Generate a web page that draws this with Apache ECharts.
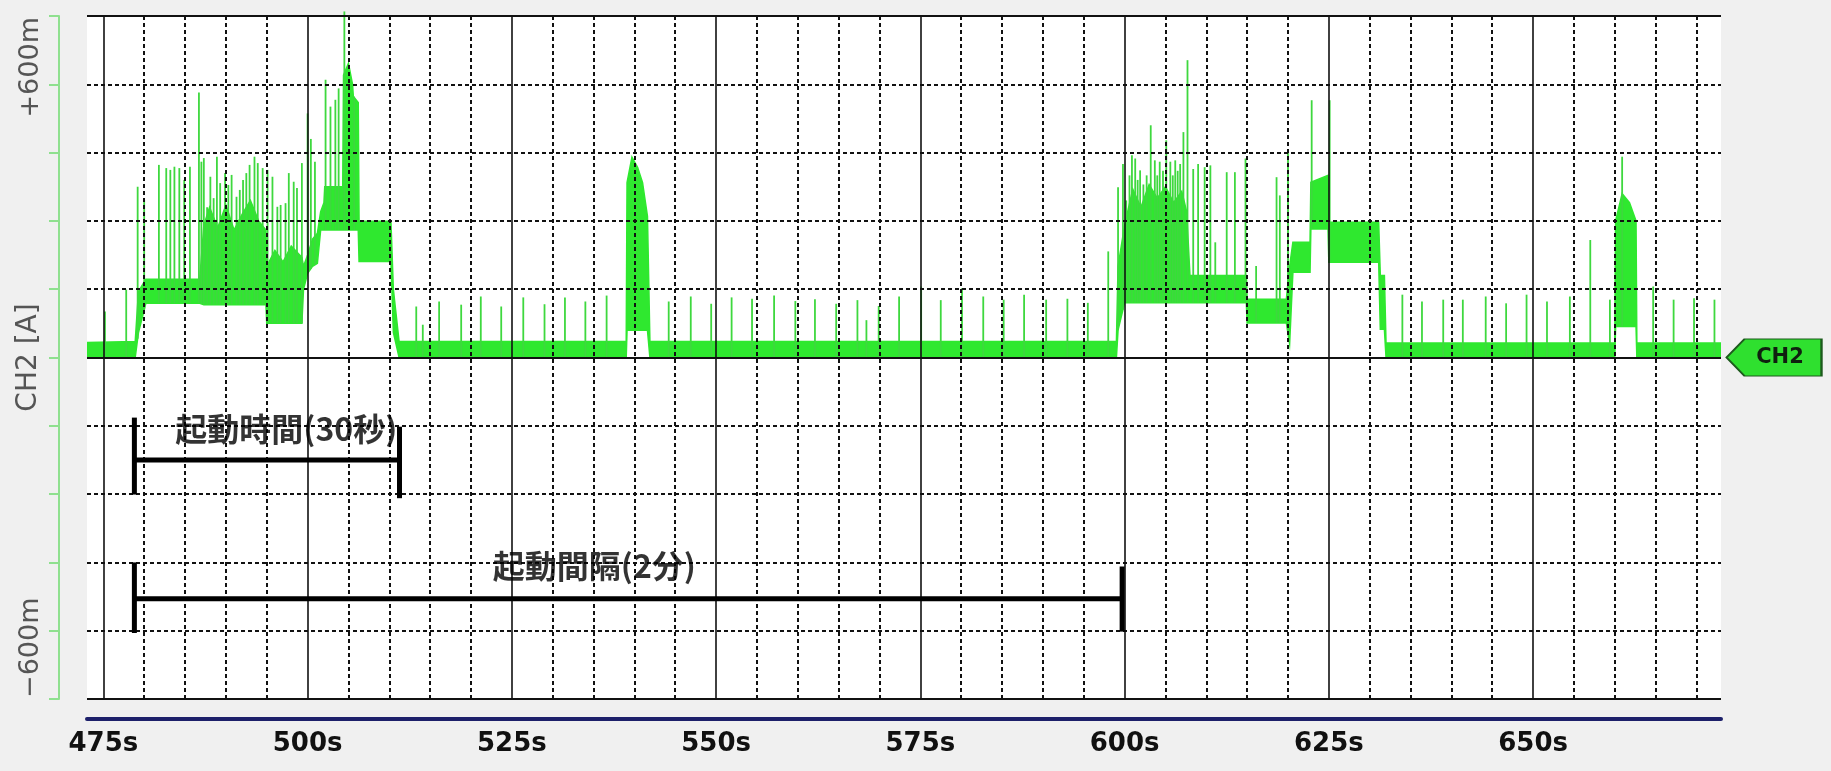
<!DOCTYPE html>
<html><head><meta charset="utf-8">
<script src="https://cdn.jsdelivr.net/npm/echarts@6/dist/echarts.min.js"></script>
<style>html,body{margin:0;padding:0;background:#f0f0f0;}#c{width:1831px;height:771px;}</style>
</head><body><div id="c"></div>
<script>
// ---- band envelope of the CH2 current trace (time s, low mA, high mA)
const bandTime = [473.0,478.9,479.3,480.2,486.8,487.3,488.0,489.0,490.0,491.0,492.0,493.0,494.0,494.9,495.0,496.0,497.0,498.0,499.3,499.5,500.0,500.6,501.2,501.6,502.0,502.1,504.3,504.4,505.0,505.5,505.6,506.2,506.3,510.2,510.5,511.2,
  539.0,539.1,539.7,540.4,541.0,541.6,541.9,
  599.0,599.2,600.0,601.0,602.0,603.0,604.0,605.0,606.0,607.0,607.6,608.0,614.9,615.0,619.8,620.2,620.6,622.7,622.8,624.9,625.0,631.1,631.3,631.8,632.0,
  660.0,660.1,660.9,661.8,662.6,662.7,673.0];
const bandLo = [0,0,55,119,119,116,116,116,116,116,116,116,116,116,75,75,75,75,75,150,185,200,207,280,280,280,280,280,280,280,280,280,211,211,55,0,
  0,60,60,60,60,60,0,
  0,60,120,120,120,120,120,120,120,120,120,120,120,76,76,30,187,187,282,282,209,209,62,62,0,
  0,68,68,68,68,0,0];
const bandHi = [33,35,145,172,172,290,330,285,335,280,315,345,300,280,200,235,210,245,220,200,225,260,273,320,340,375,375,620,646,600,573,560,299,299,149,35,
  35,384,440,417,384,310,35,
  35,200,290,370,330,380,350,375,340,365,320,180,180,128,128,200,253,253,385,400,297,297,180,180,32,
  32,300,360,340,300,32,32];
// ---- narrow current spikes (time s, peak mA)
const spikeTime = [475.2,477.8,
  479.2,480.0,481.8,482.7,483.2,483.7,484.3,484.9,485.6,486.7,487.0,487.3,487.7,488.1,488.5,488.9,489.3,489.9,490.3,490.7,491.3,491.7,492.1,492.5,492.9,493.5,493.9,494.5,495.1,495.7,496.3,496.7,497.3,497.7,498.3,498.7,499.3,500.0,500.4,500.9,502.2,502.8,503.4,503.8,504.5,505.7,
  513.3,514.1,516.1,518.8,521.2,523.7,526.4,529.0,531.5,534.0,536.6,544.2,546.9,549.4,551.9,554.4,557.1,559.7,562.1,564.7,567.3,568.4,569.9,572.4,575.1,577.5,580.1,582.7,585.2,587.7,590.4,593.0,595.5,598.0,
  599.2,599.8,600.2,600.6,600.9,601.3,601.6,601.9,602.3,602.7,603.2,603.7,604.0,604.3,604.7,605.1,605.6,605.9,606.2,606.5,606.8,607.2,607.7,608.4,609.0,609.8,610.5,611.1,612.5,613.5,614.8,616.1,618.6,619.0,620.0,622.9,625.1,
  634.0,636.4,639.0,641.4,644.2,646.7,649.2,651.7,654.5,657.0,659.4,660.9,664.7,667.2,669.7,672.2];
const spikePeak = [101,149,
  375,346,423,416,412,419,416,390,419,582,430,438,330,397,350,441,383,405,379,401,353,368,390,405,423,441,427,416,412,397,331,335,339,405,386,372,427,536,480,430,610,551,566,591,760,573,
  112,72,123,116,134,112,132,117,132,123,136,123,134,118,132,129,136,124,128,118,126,82,113,134,156,126,152,134,127,138,127,129,120,233,
  374,425,345,400,444,437,390,411,380,400,510,433,400,430,410,477,430,400,433,410,425,495,653,414,425,418,422,253,407,407,437,201,396,356,451,565,565,
  138,123,127,127,134,119,138,123,134,258,127,441,156,127,130,127];
// ---- axes
const majorTicks = [475,500,525,550,575,600,625,650];
const minorTicks = [480,485,490,495,505,510,515,520,530,535,540,545,555,560,565,570,580,585,590,595,605,610,615,620,630,635,640,645,655,660,665,670];
const yLabelValues = [-600, 600];
const solidYLines = [-750, 0, 750];
// ---- annotations
const annoText = ['起動時間(30秒)', '起動間隔(2分)'];
const annoX = [497.4, 535.1];
const annoY = [-157, -457];
const bracketSegs = [
  [478.8,-225,511.25,-225],[478.8,-132,478.8,-301],[511.25,-152,511.25,-309],
  [478.8,-530,599.7,-530],[478.8,-450,478.8,-605],[599.7,-459,599.7,-602]
];
const X_MIN = 473, X_MAX = 673;

function loAt(t){
  for (let i=0;i<bandTime.length-1;i++){
    if (t>=bandTime[i] && t<=bandTime[i+1]){
      const f=(t-bandTime[i])/(bandTime[i+1]-bandTime[i]);
      return bandLo[i]+f*(bandLo[i+1]-bandLo[i]);
    }
  }
  return 0;
}
const GREEN = '#2fe82f';
const DOT = [4,3];
const chart = echarts.init(document.getElementById('c'));
chart.setOption({
  animation:false,
  backgroundColor:'#f0f0f0',
  grid:{left:87,right:110,top:16,bottom:72,show:true,backgroundColor:'#ffffff',borderWidth:0,
        containLabel:false,outerBoundsMode:'none'},
  xAxis:[
    {type:'value',min:X_MIN,max:X_MAX,position:'bottom',offset:20,z:5,
     axisLine:{show:true,onZero:false,lineStyle:{color:'#1d206a',width:4}},
     axisTick:{show:false,customValues:majorTicks},
     axisLabel:{customValues:majorTicks,formatter:v=>v+'s',fontSize:26,fontWeight:'bold',fontFamily:'DejaVu Sans',color:'#111',margin:12},
     splitLine:{show:true,lineStyle:{color:'#111',width:1.6,type:'solid'}}}
  ],
  yAxis:[
    {type:'value',min:-750,max:750,interval:150,offset:28,z:5,
     name:'CH2 [A]',nameLocation:'middle',nameGap:16,nameMoveOverlap:false,
     nameTextStyle:{fontSize:28,color:'#555',fontFamily:'DejaVu Sans'},
     axisLine:{show:true,onZero:false,lineStyle:{color:'#8fe08f',width:2}},
     axisTick:{show:true,inside:false,length:10,lineStyle:{color:'#8fe08f',width:2}},
     axisLabel:{customValues:yLabelValues,rotate:90,margin:15,color:'#555',fontSize:27,fontFamily:'DejaVu Sans',
       formatter:v=> v>0 ? '{p|+600m}' : '{n|\u2212600m}',
       rich:{p:{fontSize:27,color:'#555',fontFamily:'DejaVu Sans',padding:[0,0,0,34]},
             n:{fontSize:27,color:'#555',fontFamily:'DejaVu Sans',padding:[0,34,0,0]}}},
     splitLine:{show:true,lineStyle:{color:'#111',width:2,type:DOT}}},
    {type:'value',min:-750,max:750,interval:150,z:6,
     axisLine:{show:false},axisTick:{show:false,customValues:solidYLines},axisLabel:{show:false},
     splitLine:{show:true,lineStyle:{color:'#111',width:2,type:'solid'}}}
  ],
  series:[
    {type:'custom',name:'band',xAxisIndex:0,yAxisIndex:0,z:2,clip:true,
     data:[[X_MIN,0]],encode:{x:0,y:1},
     renderItem:function(params,api){
       const pts=[];
       for(let i=0;i<bandTime.length;i++) pts.push(api.coord([bandTime[i],bandHi[i]]));
       for(let i=bandTime.length-1;i>=0;i--) pts.push(api.coord([bandTime[i],bandLo[i]]));
       return {type:'polygon',shape:{points:pts},style:{fill:GREEN,stroke:GREEN,lineWidth:1.5}};
     }},
    {type:'custom',name:'spikes',xAxisIndex:0,yAxisIndex:0,z:2,clip:false,
     data:spikeTime.map((t,i)=>[t,spikePeak[i]]),encode:{x:0,y:1},
     renderItem:function(params,api){
       const t=api.value(0),p=api.value(1);
       const a=api.coord([t,loAt(t)]),b=api.coord([t,p]);
       return {type:'line',shape:{x1:a[0],y1:a[1],x2:b[0],y2:b[1]},style:{stroke:'#3ed83e',lineWidth:1.8}};
     }},
    {type:'line',name:'minorGrid',xAxisIndex:0,yAxisIndex:0,z:4,data:[],silent:true,
     markLine:{silent:true,symbol:['none','none'],animation:false,label:{show:false},
       lineStyle:{color:'#111',width:2,type:DOT},
       data:minorTicks.map(v=>({xAxis:v}))}},
    {type:'custom',name:'brackets',xAxisIndex:0,yAxisIndex:0,z:10,clip:false,
     data:bracketSegs,encode:{x:[0,2],y:[1,3]},
     renderItem:function(params,api){
       const a=api.coord([api.value(0),api.value(1)]),b=api.coord([api.value(2),api.value(3)]);
       return {type:'line',shape:{x1:a[0],y1:a[1],x2:b[0],y2:b[1]},style:{stroke:'#000',lineWidth:5}};
     }},
    {type:'scatter',name:'notes',xAxisIndex:0,yAxisIndex:0,z:11,clip:false,symbolSize:1,
     itemStyle:{color:'rgba(0,0,0,0)'},
     data:annoX.map((x,i)=>[x,annoY[i],annoText[i]]),
     label:{show:true,position:'inside',formatter:p=>p.data[2],fontSize:32,fontWeight:'bold',
            color:'#000',fontFamily:'Noto Sans CJK JP'}},
    {type:'scatter',name:'marker',xAxisIndex:0,yAxisIndex:0,z:11,clip:false,
     data:[[X_MAX,0]],symbol:'path://M0,18.5L18,0L95,0L95,37L18,37Z',symbolSize:[95,37],symbolOffset:[53,0],
     itemStyle:{color:'#2fe02f',borderColor:'#1d5a1d',borderWidth:1.5,opacity:1},
     label:{show:true,position:'inside',offset:[6,0],formatter:'CH2',fontSize:21,fontWeight:'bold',
            color:'#0f200f',fontFamily:'DejaVu Sans'}}
  ]
});
</script></body></html>
